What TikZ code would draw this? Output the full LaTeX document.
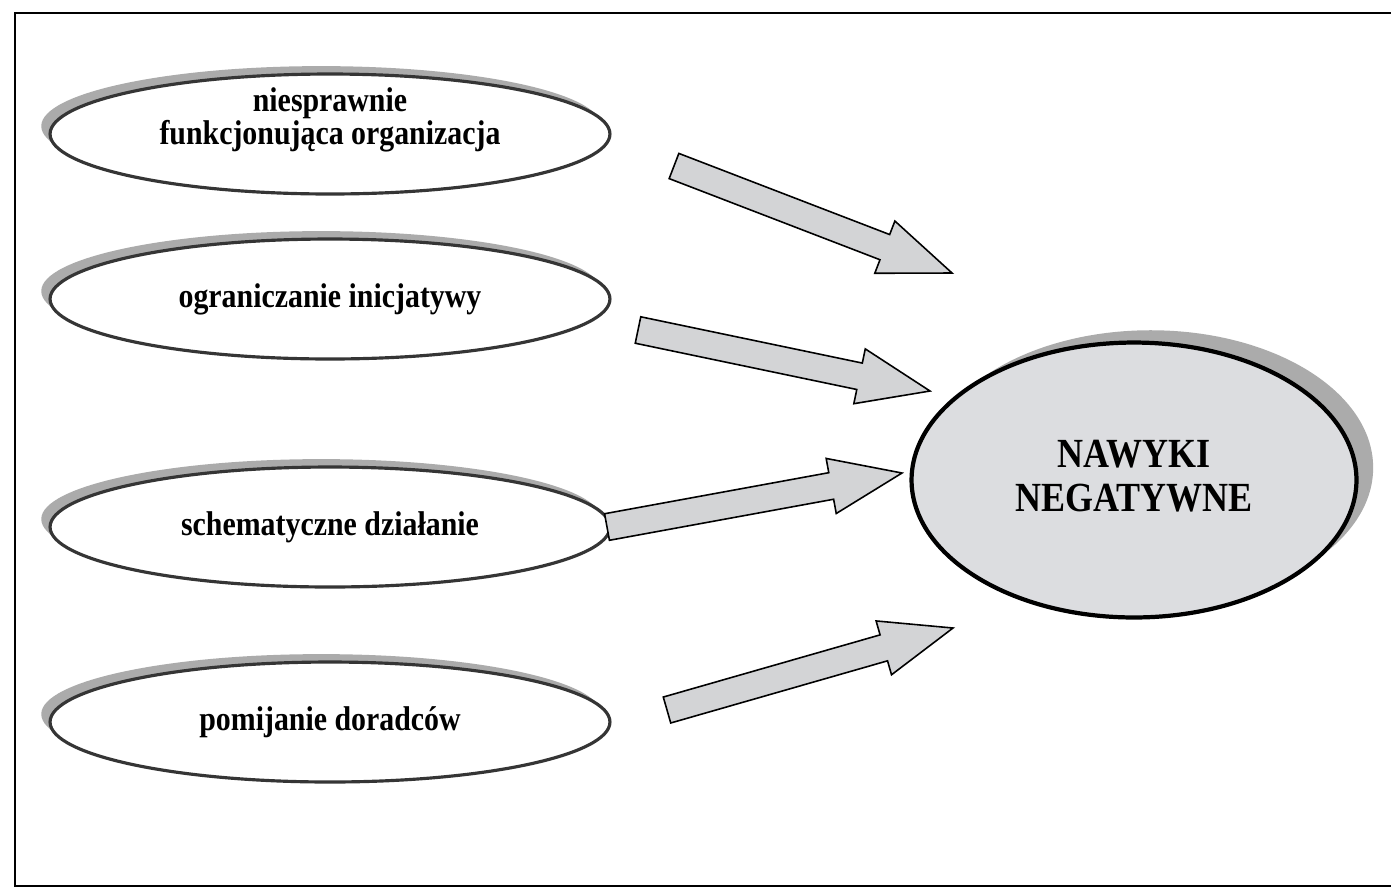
\documentclass[tikz,border=0pt]{standalone}
\usepackage{fontspec}
\setmainfont{Liberation Serif}
\usetikzlibrary{calc,shapes.geometric}

\definecolor{rimgray}{HTML}{353535}
\definecolor{shadowgray}{HTML}{ABABAB}
\definecolor{arrowfill}{HTML}{D3D4D6}
\definecolor{corefill}{HTML}{DCDDE0}

% bold serif text, a little taller than it is wide
\newcommand\tallbold[1]{\scalebox{1}[1.15]{#1}}

\tikzset{
  cause/.style={ellipse, draw=rimgray, line width=1.8pt, fill=white,
    minimum width=11.2cm, minimum height=2.4cm, inner sep=0pt, align=center,
    font=\bfseries\fontsize{17}{20}\selectfont,
    preaction={draw=none, fill=shadowgray,
      transform canvas={xshift=-5pt, yshift=4.5pt}}},
  effect/.style={ellipse, draw=black, line width=2.4pt, fill=corefill,
    minimum width=8.9cm, minimum height=5.5cm, inner sep=0pt, align=center,
    font=\bfseries\fontsize{20.5}{24}\selectfont,
    preaction={draw=none, fill=shadowgray,
      transform canvas={xshift=9.5pt, yshift=7pt}}},
  fatarrow/.style={draw=black, line width=0.9pt, fill=arrowfill, line join=miter},
  frameline/.style={draw=black, line width=1.1pt}
}

% block arrow from tail coordinate #1 to tip coordinate #2
\newcommand\fatarrow[2]{%
  \coordinate (#2base) at ($(#2)!1.44cm!(#1)$);
  \path[fatarrow]
    ($(#1)!0.27cm!90:(#2)$) -- ($(#2base)!0.27cm!-90:(#1)$)
    -- ($(#2base)!0.56cm!-90:(#1)$) -- (#2)
    -- ($(#2base)!0.56cm!90:(#1)$) -- ($(#2base)!0.27cm!90:(#1)$)
    -- ($(#1)!0.27cm!-90:(#2)$) -- cycle;
}

\begin{document}
\begin{tikzpicture}[x=0.02cm, y=-0.02cm]
  \path[use as bounding box, clip] (0,0) rectangle (1391,890);
  \fill[white] (0,0) rectangle (1391,890);

  % outer frame (its right side runs past the page edge)
  \path[frameline] (15,13) rectangle (1420,886);

  % causes
  \node[cause] (e1) at (330,134)
    {\raisebox{3pt}[0pt][0pt]{\tallbold{\begin{tabular}{@{}c@{}}niesprawnie\\[-3.5pt]funkcjonująca organizacja\end{tabular}}}};
  \node[cause] (e2) at (330,299) {\tallbold{ograniczanie inicjatywy}};
  \node[cause] (e3) at (330,527) {\raisebox{1pt}{\tallbold{schematyczne działanie}}};
  \node[cause] (e4) at (330,722) {\raisebox{1pt}{\tallbold{pomijanie doradców}}};

  % effect
  \node[effect] (ne) at (1134,480)
    {\tallbold{\begin{tabular}{@{}c@{}}NAWYKI\\[-2pt]NEGATYWNE\end{tabular}}};

  % arrow ends
  \coordinate (t1) at (674,166);  \coordinate (p1) at (952,273);
  \coordinate (t2) at (638,330);  \coordinate (p2) at (930,391);
  \coordinate (t3) at (607,527);  \coordinate (p3) at (902,473);
  \coordinate (t4) at (667,710);  \coordinate (p4) at (953,628);

  \fatarrow{t1}{p1}
  \fatarrow{t2}{p2}
  \fatarrow{t3}{p3}
  \fatarrow{t4}{p4}
\end{tikzpicture}
\end{document}
